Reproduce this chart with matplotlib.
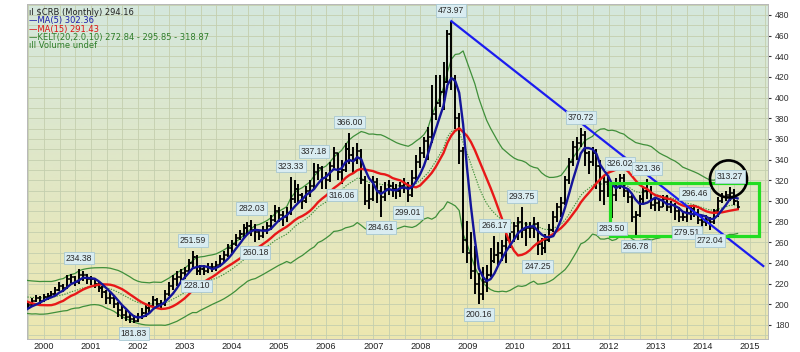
import numpy as np
import pandas as pd
import matplotlib
matplotlib.use("Agg")
import matplotlib.pyplot as plt
from matplotlib.patches import Rectangle, Ellipse

# ---------------- data (monthly bars, Jan 1998 .. Aug 2014) ----------------
start_year = 1998
closes = [
    236, 232, 230, 228, 222, 220, 215, 208, 210, 208, 200, 192,   # 1998
    194, 186, 192, 198, 194, 196, 199, 203, 206, 203, 207, 208,   # 1999
    210, 214, 218, 216, 224, 226, 222, 228, 228, 224, 224, 220,   # 2000
    216, 212, 206, 206, 200, 194, 190, 188, 186, 184, 188, 192,   # 2001
    196, 198, 204, 200, 200, 210, 218, 224, 226, 230, 232, 240,   # 2002
    246, 232, 234, 232, 236, 236, 238, 244, 248, 254, 258, 264,   # 2003
    268, 274, 276, 272, 270, 266, 272, 276, 282, 290, 286, 284,   # 2004
    288, 302, 312, 306, 300, 310, 314, 328, 332, 322, 320, 334,   # 2005
    346, 328, 330, 350, 344, 340, 348, 320, 300, 302, 318, 310,   # 2006
    304, 312, 314, 312, 310, 314, 316, 306, 322, 338, 346, 358,   # 2007
    362, 384, 395, 405, 415, 462, 418, 380, 348, 262, 250, 232,   # 2008
    220, 210, 222, 228, 242, 248, 250, 256, 262, 270, 276, 280,   # 2009
    272, 274, 274, 278, 258, 254, 262, 272, 284, 294, 298, 320,   # 2010
    338, 352, 356, 364, 346, 338, 346, 334, 310, 318, 312, 306,   # 2011
    316, 322, 310, 304, 284, 286, 302, 310, 310, 296, 298, 294,   # 2012
    302, 294, 296, 290, 284, 284, 288, 292, 288, 282, 280, 282,   # 2013
    280, 290, 300, 304, 306, 308, 300, 294.16,                    # 2014
]
highs = [
    239, 236, 234, 232, 228, 224, 220, 216, 214, 212, 208, 200,
    197, 194, 195, 200, 199, 199, 202, 206, 209, 208, 210, 211,
    213, 217, 222, 220, 228, 229, 227, 234.38, 232, 229, 227, 225,
    222, 218, 214, 212, 208, 202, 198, 194, 192, 190, 192, 196,
    199, 202, 208, 206, 204, 214, 222, 228, 232, 234, 236, 244,
    251.59, 248, 238, 238, 240, 240, 242, 248, 252, 258, 262, 268,
    272, 278, 280, 282.03, 278, 272, 276, 280, 286, 296, 294, 290,
    294, 323.33, 320, 316, 308, 314, 320, 337.18, 336, 334, 328, 338,
    352, 346, 340, 356, 366.00, 352, 356, 350, 324, 316, 324, 322,
    314, 318, 320, 318, 316, 318, 322, 318, 330, 344, 352, 362,
    372, 412, 422, 422, 434, 465, 473.97, 422, 385, 352, 281, 270,
    256, 230, 236, 238, 254, 266.17, 260, 262, 268, 276, 280, 284,
    293.75, 280, 280, 284, 280, 264, 268, 278, 290, 298, 304, 324,
    342, 358, 362, 370.72, 368, 348, 352, 350, 340, 324, 324, 316,
    322, 326.02, 326, 312, 306, 290, 306, 314, 321.36, 314, 302, 302,
    306, 306, 300, 298, 294, 290, 294, 294, 296.46, 292, 286, 286,
    284, 292, 304, 308, 310, 313.27, 312, 300,
]
lows = [
    232, 229, 227, 226, 220, 216, 212, 206, 205, 204, 198, 190,
    190, 184, 186, 192, 191, 192, 195, 198, 202, 200, 202, 204,
    207, 209, 213, 212, 215, 221, 218, 220, 223, 220, 219, 216,
    212, 206, 200, 200, 196, 188, 186, 184, 182, 181.83, 183, 186,
    188, 192, 196, 196, 194, 198, 208, 214, 218, 222, 224, 230,
    234, 228.10, 228.5, 228.5, 230, 231, 232, 236, 240, 246, 250, 256,
    262, 264, 268, 266, 260.18, 262, 264, 268, 272, 280, 280, 276,
    280, 286, 298, 298, 292, 298, 304, 312, 320, 312, 312, 318,
    332, 320, 316.06, 328, 336, 326, 336, 316, 296, 292, 300, 298,
    284.61, 300, 306, 304, 302, 304, 308, 299.01, 304, 320, 332, 342,
    340, 356, 378, 391, 388, 414, 407, 370, 336, 250, 240, 224,
    210, 200.16, 204, 212, 226, 240, 238, 242, 240, 254, 260, 262,
    264, 256, 264, 264, 247.25, 248, 250, 260, 270, 280, 284, 296,
    316, 334, 340, 352, 334, 326, 334, 312, 300, 296, 304, 283.50,
    300, 312, 304, 298, 280, 266.78, 284, 296, 302, 292, 290, 290,
    294, 290, 288, 282, 280, 281, 279.51, 282, 284, 278, 274, 276,
    272.04, 278, 284, 298, 300, 300, 296, 291,
]

ma_short, ma_long = 5, 15
kelt_ema, kelt_mult, kelt_atr = 20, 2.0, 10

high_labels = ["2000-08", "2003-01", "2004-04", "2005-02", "2005-08", "2006-05",
               "2008-07", "2009-06", "2010-01", "2011-04", "2012-02", "2012-09",
               "2013-09", "2014-06"]
low_labels = ["2001-10", "2003-02", "2004-05", "2006-03", "2007-01", "2007-08",
              "2009-02", "2010-05", "2011-12", "2012-06", "2013-07", "2014-01"]

trend_from = "2008-07"              # line starts at that month's high
trend_end = (2015.13, 237.0)        # where it leaves the chart
box_range = (2011.87, 2015.04, 266.0, 317.5)
circle_center = (2014.39, 321.3)

years = list(range(2000, 2016))
price_ticks = list(range(180, 481, 20))

# ---------------- derived series ----------------
close = np.array(closes, float)
high = np.array(highs, float)
low = np.array(lows, float)
opn = np.r_[close[0], close[:-1]]
n = len(close)
x = start_year + np.arange(n) / 12.0

s = pd.Series(close)
ma5 = s.rolling(ma_short).mean()
ma15 = s.rolling(ma_long).mean()
mid = s.ewm(span=kelt_ema, adjust=False).mean()
prev = s.shift(1).fillna(s.iloc[0])
tr = pd.concat([pd.Series(high - low), (pd.Series(high) - prev).abs(),
                (pd.Series(low) - prev).abs()], axis=1).max(axis=1)
atr = tr.ewm(alpha=1.0 / kelt_atr, adjust=False).mean()
upper = mid + kelt_mult * atr
lower = mid - kelt_mult * atr


def idx(label):
    y, m = label.split("-")
    return (int(y) - start_year) * 12 + int(m) - 1


# ---------------- figure ----------------
fig = plt.figure(figsize=(8.0, 3.52), dpi=100)
fig.patch.set_facecolor("white")
ax = fig.add_axes([27 / 800, 13 / 352, 741 / 800, 335 / 352])

x0, x1 = 1999.48, 2015.23
y0, y1 = 166.4, 490.6
ax.set_xlim(x0, x1)
ax.set_ylim(y0, y1)

# gradient background
top = np.array([212, 231, 221]) / 255.0
bot = np.array([237, 231, 176]) / 255.0
t = np.linspace(0, 1, 256)[:, None]
grad = top[None, :] * (1 - t) + bot[None, :] * t
ax.imshow(grad[:, None, :], extent=[x0, x1, y0, y1], aspect="auto",
          origin="upper", zorder=0)

# grid
for gy in np.arange(170, 491, 10):
    ax.axhline(gy, color="#c4cfae", lw=0.6, zorder=1)
for gx in np.arange(1999.84 - 1 / 3, 2015.3, 1 / 3):
    ax.axvline(gx, color="#c4cfae", lw=0.6, zorder=1)

# Keltner channel
ax.plot(x, upper, color="#3f8f3a", lw=0.9, zorder=3)
ax.plot(x, lower, color="#3f8f3a", lw=0.9, zorder=3)
ax.plot(x, mid, color="#3f8f3a", lw=0.8, ls=(0, (1.2, 1.2)), zorder=3)

# price bars (OHLC)
tick = 0.045
ax.vlines(x, low, high, color="black", lw=1.4, zorder=4)
ax.hlines(opn, x - tick, x, color="black", lw=1.1, zorder=4)
ax.hlines(close, x, x + tick, color="black", lw=1.1, zorder=4)

# moving averages
ax.plot(x, ma15, color="#e81818", lw=1.7, zorder=5)
ax.plot(x, ma5, color="#14149a", lw=1.7, zorder=6)

# trend line
ti = idx(trend_from)
ax.plot([x[ti], trend_end[0]], [high[ti], trend_end[1]], color="#1c1cf0",
        lw=1.6, zorder=6, clip_on=False)

# green box and black circle
bx0, bx1, by0, by1 = box_range
ax.add_patch(Rectangle((bx0, by0), bx1 - bx0, by1 - by0, fill=False,
                       ec="#22dd22", lw=2.3, zorder=7))
ax.add_patch(Ellipse(circle_center, 37 / 47.04, 37 / 1.0333, fill=False,
                     ec="black", lw=1.9, zorder=7))

# value labels
lab_font = ["Liberation Sans", "DejaVu Sans"]
bbox = dict(boxstyle="square,pad=0.22", fc="#d9ecf1", ec="#a8c8d2", lw=0.6)
for lab in high_labels:
    i = idx(lab)
    ax.annotate(f"{high[i]:.2f}", (x[i], high[i]), xytext=(0, 4.5),
                textcoords="offset points", ha="center", va="bottom",
                fontsize=6.2, family=lab_font, color="#2a2a2a", bbox=bbox,
                zorder=8)
for lab in low_labels:
    i = idx(lab)
    ax.annotate(f"{low[i]:.2f}", (x[i], low[i]), xytext=(0, -4.5),
                textcoords="offset points", ha="center", va="top",
                fontsize=6.2, family=lab_font, color="#2a2a2a", bbox=bbox,
                zorder=8)

# axes styling
ax.yaxis.tick_right()
ax.set_yticks(price_ticks)
ax.set_yticklabels([str(v) for v in price_ticks], family=lab_font)
ax.set_xticks([yr - 0.16 for yr in years])
ax.set_xticklabels([str(yr) for yr in years], family=lab_font)
ax.tick_params(axis="y", labelsize=6.2, colors="#333333", length=2, pad=3)
ax.tick_params(axis="x", labelsize=6.6, colors="#222222", length=0, pad=2)
for sp in ax.spines.values():
    sp.set_color("#b8b8b8")
    sp.set_linewidth(0.7)

# legend text
legend = [
    ("ıl $CRB (Monthly) 294.16", "#222222"),
    ("—MA(5) 302.36", "#1a1aa8"),
    ("—MA(15) 291.43", "#dd1111"),
    ("—KELT(20,2.0,10) 272.84 - 295.85 - 318.87", "#2e7d2a"),
    ("ıll Volume undef", "#2e7d2a"),
]
for k, (txt, col) in enumerate(legend):
    fig.text(29 / 800, 1 - (12.5 + 8.3 * k) / 352, txt, color=col,
             fontsize=6, va="center", ha="left")

fig.savefig("out.png", dpi=100)
